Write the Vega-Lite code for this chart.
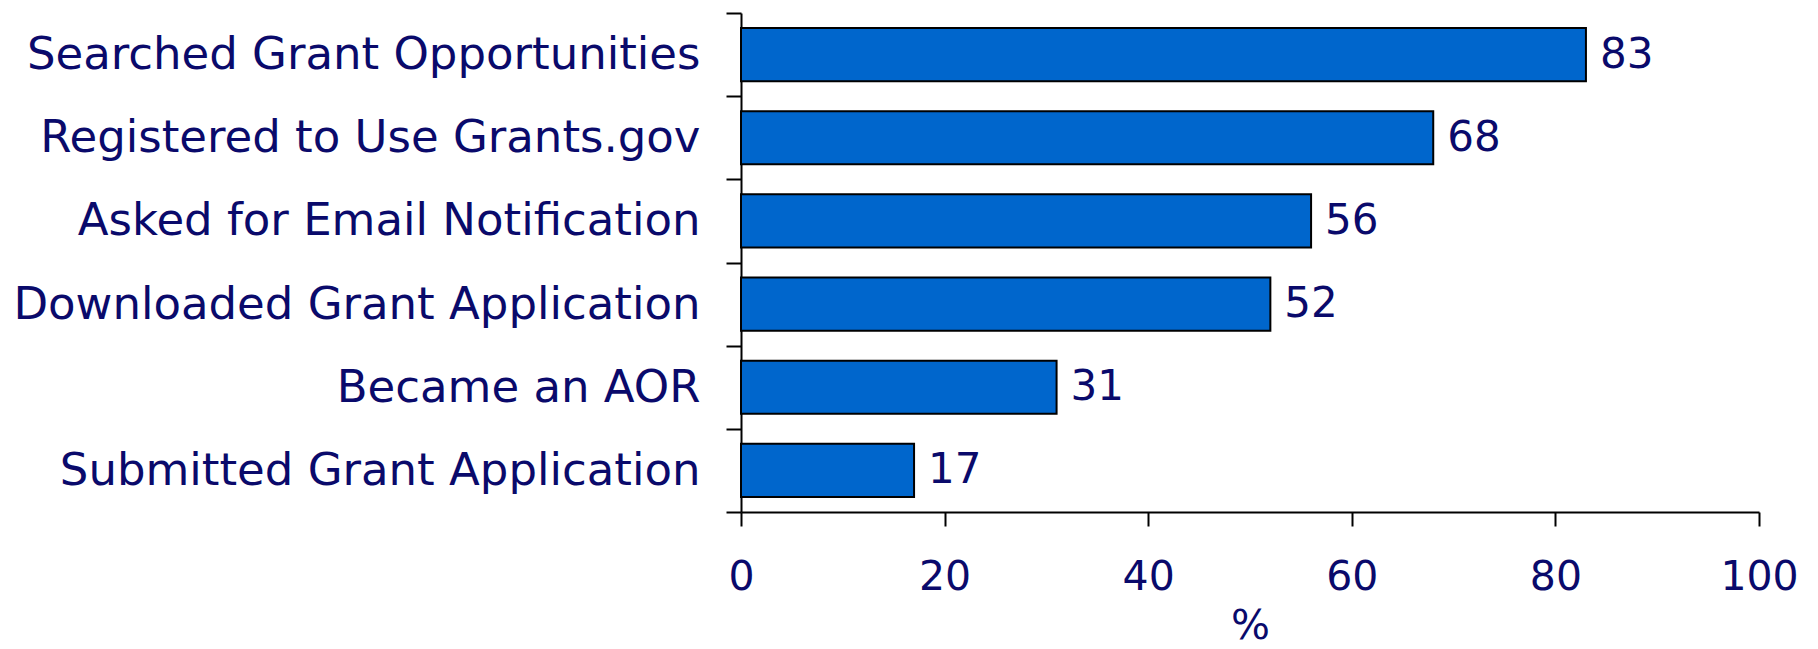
{
  "$schema": "https://vega.github.io/schema/vega-lite/v6.json",
  "width": 1018,
  "height": 499,
  "autosize": {"type": "none"},
  "padding": {"left": 741, "top": 13, "right": 59, "bottom": 137},
  "background": "white",
  "config": {"view": {"stroke": null}, "font": "DejaVu Sans"},
  "data": {"values": [
    {"activity": "Searched Grant Opportunities", "pct": 83},
    {"activity": "Registered to Use Grants.gov", "pct": 68},
    {"activity": "Asked for Email Notification", "pct": 56},
    {"activity": "Downloaded Grant Application", "pct": 52},
    {"activity": "Became an AOR", "pct": 31},
    {"activity": "Submitted Grant Application", "pct": 17}
  ]},
  "encoding": {
    "y": {
      "field": "activity", "type": "nominal", "sort": null,
      "scale": {"paddingInner": 0, "paddingOuter": 0},
      "axis": {
        "title": null, "domainColor": "black", "domainWidth": 2,
        "tickColor": "black", "tickWidth": 2, "tickSize": 15, "tickBand": "extent",
        "labelFont": "DejaVu Sans", "labelFontSize": 45, "labelColor": "#0A0A6B",
        "labelPadding": 26, "labelLimit": 0
      }
    },
    "x": {
      "field": "pct", "type": "quantitative",
      "scale": {"domain": [0, 100], "nice": false},
      "axis": {
        "title": "%", "values": [0, 20, 40, 60, 80, 100], "grid": false,
        "domainColor": "black", "domainWidth": 2,
        "tickColor": "black", "tickWidth": 2, "tickSize": 14,
        "labelFont": "DejaVu Sans", "labelFontSize": 41, "labelColor": "#0A0A6B",
        "labelPadding": 31, "labelFlush": false, "labelOverlap": false,
        "titleFont": "DejaVu Sans", "titleFontSize": 41, "titleFontWeight": "normal",
        "titleColor": "#0A0A6B", "titlePadding": 9
      }
    }
  },
  "layer": [
    {"mark": {"type": "bar", "fill": "#0066CC", "stroke": "black", "strokeWidth": 2, "height": {"band": 0.64}}},
    {"mark": {"type": "text", "align": "left", "baseline": "middle", "dx": 14, "font": "DejaVu Sans", "fontSize": 42, "color": "#0A0A6B"},
     "encoding": {"text": {"field": "pct", "type": "quantitative"}}}
  ]
}
